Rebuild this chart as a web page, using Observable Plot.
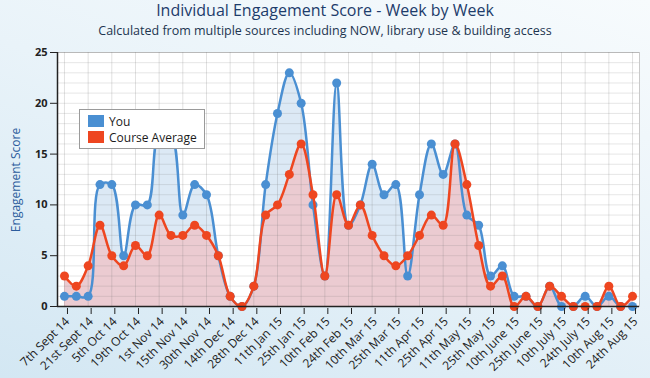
<!DOCTYPE html>
<html>
<head>
<meta charset="utf-8">
<script src="https://cdn.jsdelivr.net/npm/d3@7"></script>
<script src="https://cdn.jsdelivr.net/npm/@observablehq/plot@0.6"></script>
<style>
  html, body { margin: 0; padding: 0; }
  body {
    width: 650px; height: 378px; overflow: hidden; position: relative;
    background: linear-gradient(20deg, #d3e7f3 0%, #e9f3f9 55%, #f7fbfd 100%);
    font-family: "Open Sans", sans-serif;
  }
  #head { height: 42px; text-align: center; color: #1d3c6b; }
  #title { font-size: 16px; line-height: 21px; padding-top: 0px; }
  #subtitle { font-size: 12.5px; line-height: 16px; padding-top: 2px; color: #1d3550; }
  #legend {
    position: absolute; left: 79px; top: 109px; width: 126px; height: 40px;
    background: white; border: 1px solid #9a9a9a; box-sizing: border-box;
    font-size: 12px; color: #1b1b1b;
  }
  .item { position: absolute; left: 8px; height: 14px; line-height: 14px; }
  .sw { display: inline-block; width: 16px; height: 12px; vertical-align: -1px; margin-right: 5px; }
  #ylab {
    position: absolute; left: -84px; top: 171px; width: 200px; height: 18px; line-height: 18px;
    text-align: center; transform: rotate(-90deg); transform-origin: 50% 50%;
    font-size: 12px; color: #2b5c9c; white-space: nowrap;
  }
</style>
</head>
<body>
<div id="head">
  <div id="title">Individual Engagement Score - Week by Week</div>
  <div id="subtitle">Calculated from multiple sources including NOW, library use &amp; building access</div>
</div>
<div id="chart"></div>
<script>
const tickLabels = ["7th Sept 14","21st Sept 14","5th Oct 14","19th Oct 14","1st Nov 14","15th Nov 14","30th Nov 14","14th Dec 14","28th Dec 14","11th Jan 15","25th Jan 15","10th Feb 15","24th Feb 15","10th Mar 15","25th Mar 15","11th Apr 15","25th Apr 15","11th May 15","25th May 15","10th June 15","25th June 15","10th July 15","24th July 15","10th Aug 15","24th Aug 15"];
const you = [1,1,1,12,12,5,10,10,17,17,9,12,11,5,1,0,2,12,19,23,20,10,3,22,8,10,14,11,12,3,11,16,13,16,9,8,3,4,1,1,0,2,0,0,1,0,1,0,0];
const courseAverage = [3,2,4,8,5,4,6,5,9,7,7,8,7,5,1,0,2,9,10,13,16,11,3,11,8,10,7,5,4,5,7,9,8,16,12,6,2,3,0,1,0,2,1,0,0,0,2,0,1];
const seriesNames = ["You", "Course Average"];

const blue = "#4a8fd2", orange = "#ee4620";
const rows = you.map((v, i) => ({i, you: v, avg: courseAverage[i]}));
const curve = "catmull-rom";
const xDom = [-0.59, you.length - 1 + 0.59];

const chart = Plot.plot({
  width: 650, height: 336,
  marginTop: 10, marginBottom: 72, marginLeft: 57, marginRight: 11,
  x: {domain: xDom},
  y: {domain: [0, 25]},
  style: {background: "transparent", fontFamily: "Open Sans, sans-serif"},
  marks: [
    Plot.frame({fill: "white", stroke: "#c9c9c9"}),
    Plot.areaY(rows, {x: "i", y: "you", fill: "#dce9f5", curve, clip: true}),
    Plot.areaY(rows, {x: "i", y: "avg", fill: "#ebcbd1", curve, clip: true}),
    Plot.gridY(d3.range(1, 26), {stroke: "#777", strokeOpacity: 0.18}),
    Plot.gridX(d3.range(0, you.length, 2), {stroke: "#777", strokeOpacity: 0.22}),
    Plot.lineY(rows, {x: "i", y: "you", stroke: blue, strokeWidth: 2.5, curve, clip: true}),
    Plot.dot(rows, {x: "i", y: "you", fill: blue, r: 4.5}),
    Plot.lineY(rows, {x: "i", y: "avg", stroke: orange, strokeWidth: 2.5, curve, clip: true}),
    Plot.dot(rows, {x: "i", y: "avg", fill: orange, r: 4.5}),
    Plot.axisY({ticks: [0,5,10,15,20,25], tickSize: 7, tickPadding: 3, label: null, fontSize: 11, fontWeight: "bold", color: "#222"}),
    Plot.axisX({ticks: d3.range(0, you.length, 2), tickFormat: d => tickLabels[d / 2], tickRotate: -45, tickSize: 6, tickPadding: 5, dx: 3, dy: 2, label: null, fontSize: 12, color: "#222"}),
    Plot.ruleY([0], {stroke: "#222", strokeWidth: 1.5}),
    Plot.ruleX([xDom[0]], {stroke: "#222", strokeWidth: 1.5})
  ]
});
document.getElementById("chart").appendChild(chart);

const legend = document.createElement("div");
legend.id = "legend";
legend.innerHTML = `<div class="item" style="top:5px"><span class="sw" style="background:${blue}"></span>${seriesNames[0]}</div>
<div class="item" style="top:21px"><span class="sw" style="background:${orange}"></span>${seriesNames[1]}</div>`;
document.body.appendChild(legend);

const yl = document.createElement("div");
yl.id = "ylab";
yl.textContent = "Engagement Score";
document.body.appendChild(yl);
</script>
</body>
</html>
